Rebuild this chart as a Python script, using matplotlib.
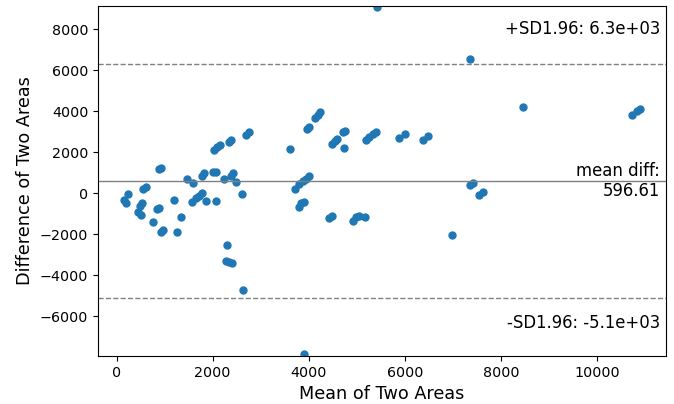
import numpy as np
import matplotlib
matplotlib.use("Agg")
import matplotlib.pyplot as plt

# Bland-Altman style data: mean of two areas vs difference
mean_areas = [
    150, 198, 240, 557, 610, 537, 495, 449, 511, 756,
    881, 916, 846, 881, 916, 965, 1190, 1334, 1263, 1472,
    1597, 1576, 1660, 1716, 1772, 1868, 2077, 1772, 1820, 2008,
    2065, 2029, 2092, 2144, 2342, 2378, 2238, 2378, 2432, 2489,
    2603, 2691, 2749, 2307, 2273, 2342, 2405, 2635, 3616, 3714,
    3804, 3873, 3939, 4013, 3789, 3846, 3908, 3908, 3960, 4013,
    4138, 4190, 4242, 4493, 4549, 4587, 4712, 4764, 4743, 4430,
    4482, 4916, 4987, 5042, 5182, 5196, 5265, 5334, 5411, 5418,
    5871, 5996, 6378, 6482, 7358, 7358, 7415, 7547, 7624, 6983,
    8466, 10729, 10833, 10902,
]
diff_areas = [
    -327, -463, -34, 185, 293, -498, -620, -898, -1044, -1400,
    1171, 1220, -780, -732, -1873, -1790, -327, -1141, -1873, 698,
    488, -410, -244, -132, 0, -376, -376, 859, 976, 1015,
    1039, 2112, 2259, 2341, 2517, 2576, 698, 859, 976, 561,
    -34, 2844, 2976, -2537, -3278, -3327, -3385, -4717, 2137, 195,
    429, 576, 698, 820, -654, -498, -424, -7850, 3112, 3220,
    3673, 3820, 3951, 2405, 2551, 2649, 3005, 3054, 2210, -1205,
    -1083, -1327, -1156, -1083, -1141, 2600, 2722, 2868, 2990, 9100,
    2712, 2893, 2600, 2795, 6537, 405, 478, -83, 39, -2049,
    4224, 3820, 4015, 4112,
]

mean_diff = 596.61
std_diff = 2900
sd_limit = 1.96

upper = mean_diff + sd_limit * std_diff
lower = mean_diff - sd_limit * std_diff

fig = plt.figure(figsize=(6.74, 4.04), dpi=100)
ax = fig.add_axes([0.1454, 0.1188, 0.8426, 0.8662])

ax.scatter(mean_areas, diff_areas, s=25, color="#1f77b4")
ax.axhline(mean_diff, color="gray", linewidth=1)
ax.axhline(upper, color="gray", linewidth=1, linestyle="--")
ax.axhline(lower, color="gray", linewidth=1, linestyle="--")

ax.annotate("mean diff:\n{}".format(np.round(mean_diff, 2)),
            xy=(0.99, mean_diff), xycoords=ax.get_yaxis_transform(),
            ha="right", va="center", fontsize=11.9)
ax.annotate("+SD{}: {:0.2g}".format(sd_limit, upper),
            xy=(0.99, 0.92), xycoords="axes fraction",
            ha="right", fontsize=11.9)
ax.annotate("-SD{}: {:0.2g}".format(sd_limit, lower),
            xy=(0.99, 0.07), xycoords="axes fraction",
            ha="right", va="bottom", fontsize=11.9)

half_ylim = 1.5 * sd_limit * std_diff
ax.set_ylim(mean_diff - half_ylim, mean_diff + half_ylim)

ax.set_xlabel("Mean of Two Areas", fontsize=12.7)
ax.set_ylabel("Difference of Two Areas", fontsize=12.7)
ax.tick_params(labelsize=10.3)

fig.savefig("out.png", dpi=100)
